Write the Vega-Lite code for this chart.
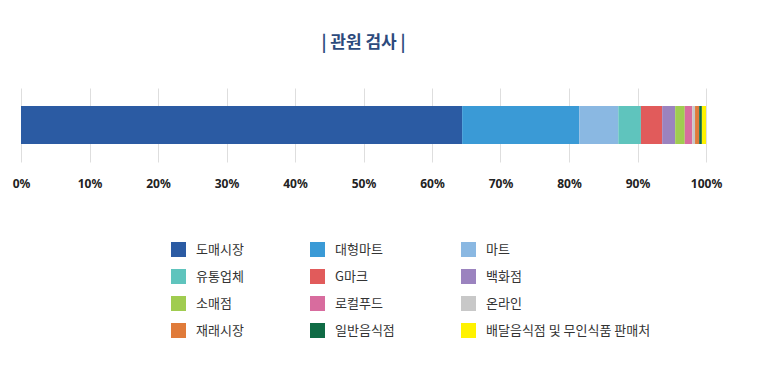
{
  "$schema": "https://vega.github.io/schema/vega-lite/v6.json",
  "autosize": {"type": "none"},
  "padding": {"left": 21, "top": 88, "right": 54, "bottom": 205},
  "width": 685,
  "height": 74,
  "background": "#ffffff",
  "title": {
    "text": "|  관원 검사  |",
    "font": "Noto Sans CJK KR",
    "fontSize": 17,
    "fontWeight": "bold",
    "color": "#2c4a7c",
    "anchor": "middle",
    "offset": 36
  },
  "data": {
    "values": [
      {"category": "도매시장", "value": 64.4, "order": 1},
      {"category": "대형마트", "value": 17.1, "order": 2},
      {"category": "마트", "value": 5.7, "order": 3},
      {"category": "유통업체", "value": 3.3, "order": 4},
      {"category": "G마크", "value": 3.1, "order": 5},
      {"category": "백화점", "value": 1.9, "order": 6},
      {"category": "소매점", "value": 1.4, "order": 7},
      {"category": "로컬푸드", "value": 1.1, "order": 8},
      {"category": "온라인", "value": 0.4, "order": 9},
      {"category": "재래시장", "value": 0.6, "order": 10},
      {"category": "일반음식점", "value": 0.4, "order": 11},
      {"category": "배달음식점 및 무인식품 판매처", "value": 0.6, "order": 12}
    ]
  },
  "mark": {"type": "bar"},
  "encoding": {
    "y": {
      "datum": "all",
      "type": "nominal",
      "axis": null,
      "scale": {"paddingInner": 0, "paddingOuter": 0.474}
    },
    "x": {
      "field": "value",
      "type": "quantitative",
      "stack": "zero",
      "scale": {"domain": [0, 100], "nice": false},
      "axis": {
        "values": [0, 10, 20, 30, 40, 50, 60, 70, 80, 90, 100],
        "labelExpr": "datum.value + '%'",
        "title": null,
        "domain": false,
        "ticks": false,
        "grid": true,
        "gridColor": "#dedede",
        "gridWidth": 1,
        "labelPadding": 16,
        "labelFont": "Noto Sans",
        "labelFontSize": 12,
        "labelFontWeight": "bold",
        "labelColor": "#222222",
        "labelFlush": false
      }
    },
    "order": {"field": "order", "type": "quantitative"},
    "color": {
      "field": "category",
      "type": "nominal",
      "scale": {
        "domain": ["도매시장", "대형마트", "마트", "유통업체", "G마크", "백화점", "소매점", "로컬푸드", "온라인", "재래시장", "일반음식점", "배달음식점 및 무인식품 판매처"],
        "range": ["#2b5ba3", "#3a9ad6", "#8ab8e2", "#5fc4bd", "#e15b5b", "#9b83bf", "#a0cc50", "#d86c9e", "#c8c8c8", "#e07b3a", "#0f6b45", "#fff200"]
      },
      "legend": {
        "title": null,
        "orient": "none",
        "direction": "horizontal",
        "legendX": 150,
        "legendY": 154,
        "columns": 3,
        "gridAlign": "each",
        "columnPadding": 66,
        "rowPadding": 12,
        "padding": 0,
        "symbolType": "square",
        "symbolSize": 225,
        "symbolStrokeWidth": 0,
        "symbolOpacity": 1,
        "labelOffset": 10,
        "labelFont": "Noto Sans CJK KR",
        "labelFontSize": 13,
        "labelColor": "#333333",
        "labelLimit": 300
      }
    }
  },
  "config": {"view": {"stroke": null}}
}
